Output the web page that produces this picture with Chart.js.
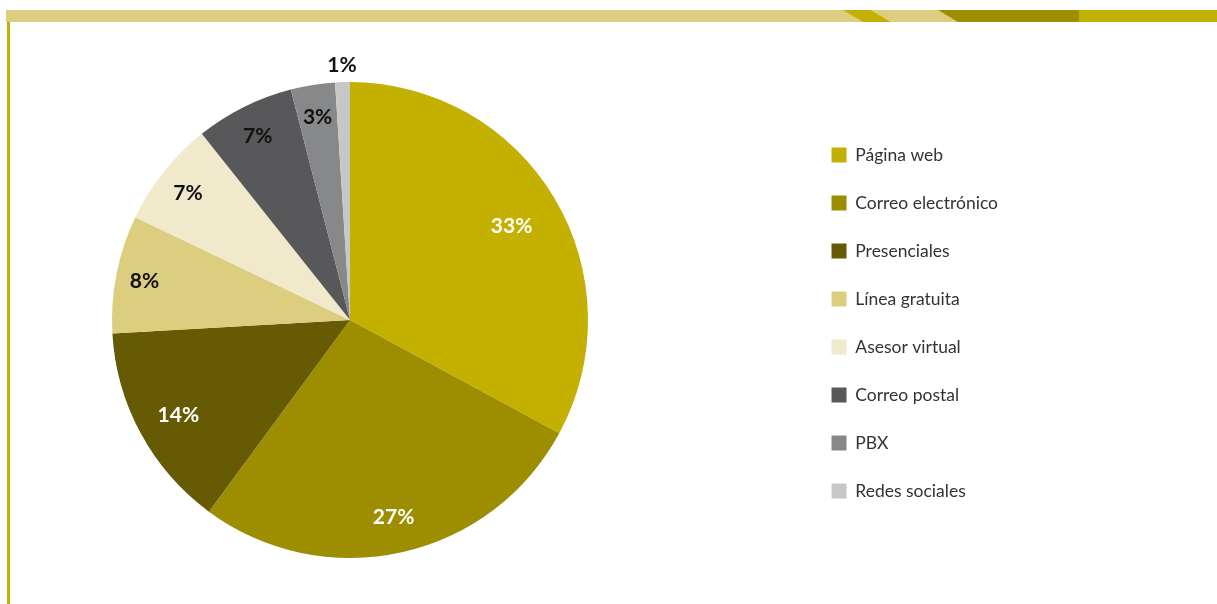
<!DOCTYPE html>
<html>
<head>
<meta charset="utf-8">
<script src="https://cdn.jsdelivr.net/npm/chart.js@4"></script>
<style>
  html, body { margin: 0; padding: 0; background: #fff; overflow: hidden; }
  body { width: 1217px; height: 604px; position: relative; }
  .bar { position: absolute; top: 10px; height: 12px; }
  #wrap { position: absolute; left: -101px; top: 0; height: 604px; }
</style>
</head>
<body>
<div class="bar" style="left:6px;width:1073px;background:#ddcd7f"></div>
<div class="bar" style="left:843px;width:48px;background:#c4b000;clip-path:polygon(0 0,27px 0,48px 100%,20px 100%)"></div>
<div class="bar" style="left:938px;width:141px;background:#9c8e00;clip-path:polygon(0 0,100% 0,100% 100%,20px 100%)"></div>
<div class="bar" style="left:1079px;width:138px;background:#c4b000"></div>
<div style="position:absolute;left:7px;top:22px;width:3px;height:582px;background:#c4b000"></div>
<div id="wrap"><canvas id="pieChart"></canvas></div>

<script>
const categories = ['Página web', 'Correo electrónico', 'Presenciales', 'Línea gratuita',
                    'Asesor virtual', 'Correo postal', 'PBX', 'Redes sociales'];
const shares = [32.9, 27.2, 14.0, 8.0, 7.2, 6.7, 3.0, 1.0];

const sliceColors = ['#c4b000', '#9c8e00', '#665a05', '#ddcd7f', '#f0e9cb', '#58585a', '#87888a', '#c6c7c9'];
const labelColors = ['#fff', '#fff', '#fff', '#111', '#111', '#111', '#111', '#111'];
// where each % label sits, as a fraction of the radius
const labelRadius = [0.79, 0.84, 0.82, 0.88, 0.87, 0.87, 0.87, 1.08];

const legendFont = { family: 'Lato', size: 17.5, weight: 400 };
const legendPad = 30.5;

// size the canvas so the pie area ends where the legend starts
const m = document.createElement('canvas').getContext('2d');
m.font = '400 17.5px Lato';
const textW = Math.max(...categories.map(c => m.measureText(c).width));
const legendW = legendPad + 15 + legendFont.size / 2 + textW + 10;
document.getElementById('wrap').style.width = (902 + legendW + 20) + 'px';

const pctLabels = {
    id: 'pctLabels',
    afterDatasetsDraw(chart) {
        const ctx = chart.ctx;
        const meta = chart.getDatasetMeta(0);
        ctx.save();
        ctx.font = 'bold 21px Lato';
        ctx.textAlign = 'center';
        ctx.textBaseline = 'middle';
        meta.data.forEach((arc, i) => {
            const p = arc.getProps(['x', 'y', 'startAngle', 'endAngle', 'outerRadius'], true);
            const mid = (p.startAngle + p.endAngle) / 2;
            const r = p.outerRadius * labelRadius[i];
            ctx.fillStyle = labelColors[i];
            // +2 so the digits sit visually centred
            ctx.fillText(Math.round(shares[i]) + '%', p.x + Math.cos(mid) * r, p.y + Math.sin(mid) * r + 2);
        });
        ctx.restore();
    }
};

new Chart(document.getElementById('pieChart'), {
    type: 'pie',
    data: {
        labels: categories,
        datasets: [{
            data: shares,
            backgroundColor: sliceColors,
            borderWidth: 0
        }]
    },
    options: {
        responsive: true,
        maintainAspectRatio: false,
        animation: false,
        layout: { padding: { top: 82, bottom: 46, left: 0, right: 20 } },
        plugins: {
            legend: {
                position: 'right',
                title: { display: true, text: '', font: { size: 5 }, padding: 0 },
                labels: {
                    boxWidth: 15,
                    boxHeight: 15,
                    padding: legendPad,
                    color: '#333',
                    font: legendFont
                }
            },
            tooltip: { enabled: false }
        }
    },
    plugins: [pctLabels]
});
</script>
</body>
</html>
